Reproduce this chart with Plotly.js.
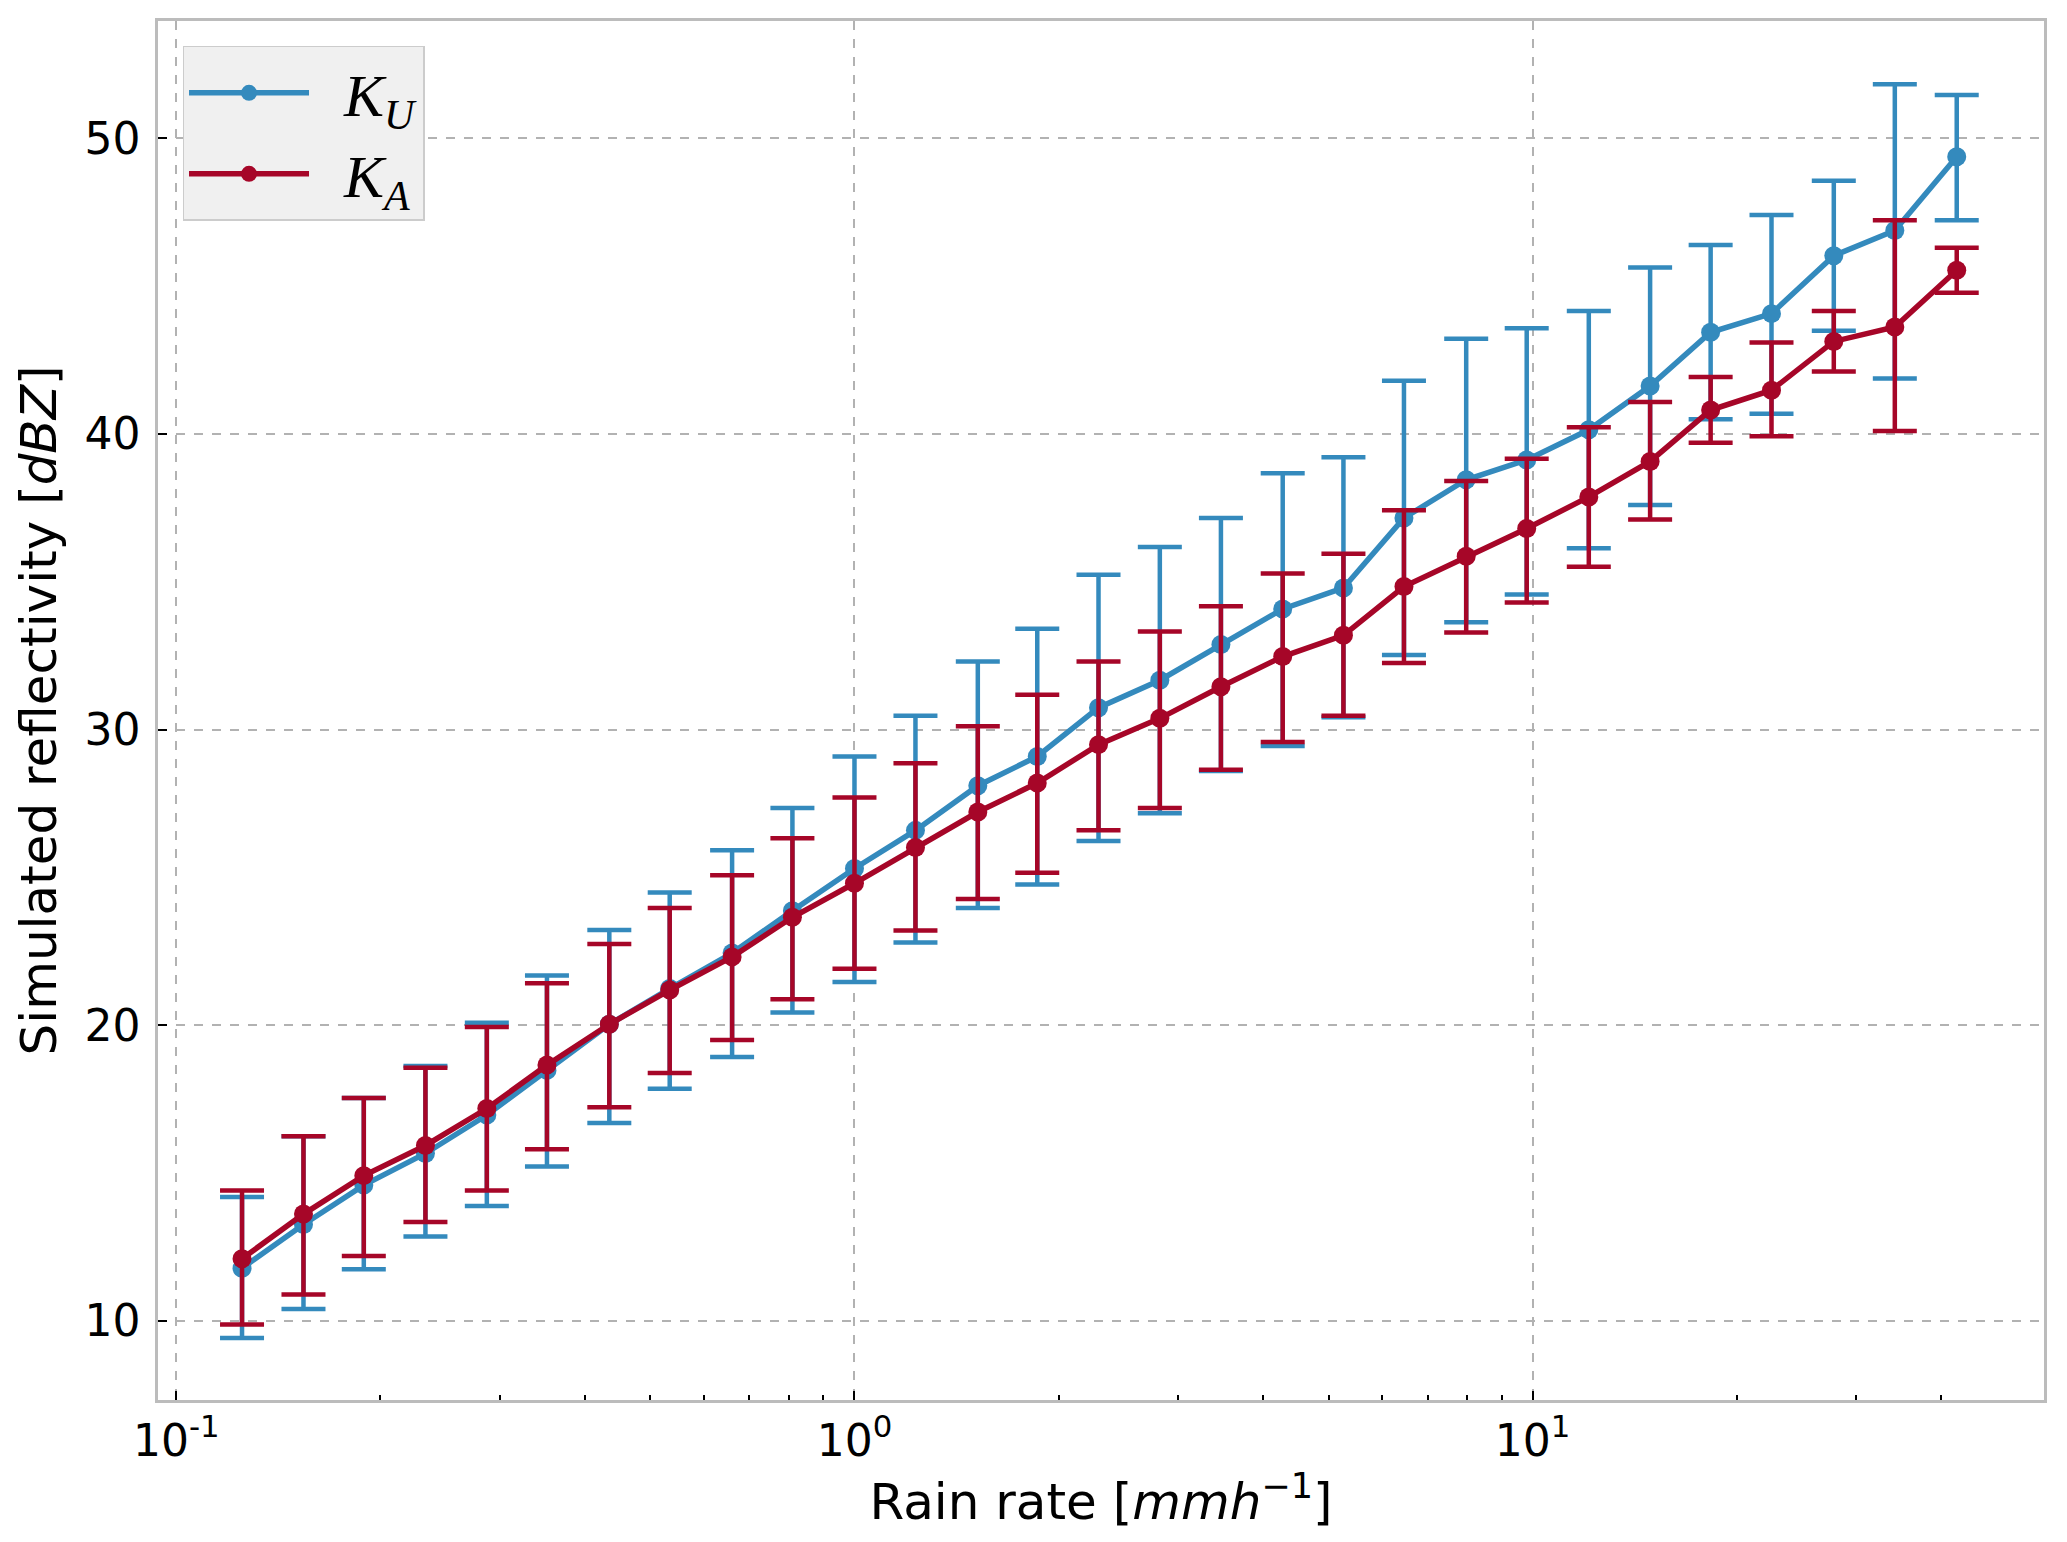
<!DOCTYPE html>
<html>
<head>
<meta charset="utf-8">
<script src="https://cdn.plot.ly/plotly-3.0.1.min.js"></script>
<style>
html,body{margin:0;padding:0;background:#fff;}
#chart{width:2067px;height:1542px;}
</style>
</head>
<body>
<div id="chart"></div>
<script>
// Rain rate bin centres [mm/h]
const rainRate = [0.125, 0.154, 0.189, 0.233, 0.287, 0.352, 0.435, 0.534, 0.660, 0.810,
                  1.00, 1.23, 1.52, 1.86, 2.29, 2.82, 3.47, 4.28, 5.26, 6.46,
                  7.98, 9.80, 12.1, 14.9, 18.3, 22.5, 27.8, 34.2, 42.2];

// Ku band: mean, upper and lower error limits [dBZ]
const kuMean  = [11.78, 13.26, 14.59, 15.66, 16.96, 18.47, 20.03, 21.24, 22.44, 23.87,
                 25.30, 26.59, 28.10, 29.09, 30.74, 31.67, 32.88, 34.08, 34.79, 37.16,
                 38.45, 39.12, 40.14, 41.62, 43.44, 44.07, 46.03, 46.88, 49.38];
const kuUpper = [14.19, 16.24, 17.54, 18.62, 20.08, 21.68, 23.22, 24.49, 25.92, 27.35,
                 29.09, 30.47, 32.30, 33.41, 35.24, 36.18, 37.16, 38.67, 39.21, 41.80,
                 43.22, 43.58, 44.16, 45.63, 46.39, 47.41, 48.57, 51.83, 51.47];
const kuLower = [9.42, 10.40, 11.74, 12.85, 13.88, 15.22, 16.69, 17.85, 18.92, 20.43,
                 21.46, 22.80, 23.96, 24.76, 26.23, 27.17, 28.60, 29.44, 30.42, 32.52,
                 33.63, 34.57, 36.13, 37.60, 40.50, 40.68, 43.49, 41.88, 47.23];

// Ka band: mean, upper and lower error limits [dBZ]
const kaMean  = [12.10, 13.61, 14.91, 15.93, 17.18, 18.65, 20.03, 21.19, 22.31, 23.65,
                 24.80, 26.01, 27.21, 28.19, 29.49, 30.38, 31.45, 32.47, 33.19, 34.84,
                 35.86, 36.80, 37.87, 39.07, 40.81, 41.48, 43.13, 43.62, 45.54];
const kaUpper = [14.41, 16.24, 17.54, 18.56, 19.94, 21.42, 22.75, 23.96, 25.07, 26.32,
                 27.70, 28.86, 30.11, 31.18, 32.30, 33.32, 34.17, 35.28, 35.95, 37.42,
                 38.41, 39.16, 40.23, 41.08, 41.93, 43.09, 44.16, 47.23, 46.30];
const kaLower = [9.87, 10.89, 12.19, 13.34, 14.41, 15.80, 17.22, 18.38, 19.50, 20.88,
                 21.91, 23.20, 24.27, 25.16, 26.59, 27.35, 28.64, 29.58, 30.47, 32.25,
                 33.28, 34.30, 35.51, 37.11, 39.70, 39.92, 42.11, 40.10, 44.78];

const seriesNames = ['&nbsp;&nbsp;<i>K</i><sub><i>U</i></sub>', '&nbsp;&nbsp;<i>K</i><sub><i>A</i></sub>'];
const xTickVals = [0.1, 1, 10];
const xTickText = ['10<sup>-1</sup>', '10<sup>0</sup>', '10<sup>1</sup>'];
const xMinorVals = [0.2,0.3,0.4,0.5,0.6,0.7,0.8,0.9,2,3,4,5,6,7,8,9,20,30,40];
const yTickVals = [10, 20, 30, 40, 50];

const blue = '#348ABD';
const red = '#A60628';

function diff(a, b) { return a.map((v, i) => v - b[i]); }

function makeTrace(name, mean, upper, lower, color) {
  return {
    type: 'scatter',
    mode: 'lines+markers',
    name: name,
    x: rainRate,
    y: mean,
    line: {color: color, width: 5.5},
    marker: {color: color, size: 19},
    error_y: {
      type: 'data',
      symmetric: false,
      array: diff(upper, mean),
      arrayminus: diff(mean, lower),
      color: color,
      thickness: 4.5,
      width: 22
    }
  };
}

const data = [
  makeTrace(seriesNames[0], kuMean, kuUpper, kuLower, blue),
  makeTrace(seriesNames[1], kaMean, kaUpper, kaLower, red)
];

const tickFont = {family: 'DejaVu Sans, sans-serif', size: 44, color: '#000'};

const layout = {
  width: 2067,
  height: 1542,
  paper_bgcolor: '#ffffff',
  plot_bgcolor: '#ffffff',
  margin: {l: 158, r: 23, t: 21, b: 142},
  showlegend: true,
  legend: {
    x: 0.013, y: 0.982, xanchor: 'left', yanchor: 'top',
    bgcolor: '#f0f0f0',
    bordercolor: '#cccccc',
    borderwidth: 1.5,
    font: {family: 'Liberation Serif, DejaVu Serif, serif', size: 60, color: '#000'},
    itemwidth: 120,
    tracegroupgap: 0
  },
  xaxis: {
    type: 'log',
    range: [-1.027, 1.754],
    tickmode: 'array',
    tickvals: xTickVals,
    ticktext: xTickText,
    ticks: 'inside',
    ticklen: 9,
    tickwidth: 2,
    tickcolor: '#000',
    tickfont: tickFont,
    showline: true,
    linecolor: '#bcbcbc',
    linewidth: 2.5,
    mirror: true,
    showgrid: true,
    gridcolor: '#b2b2b2',
    gridwidth: 1.5,
    griddash: 'dash',
    zeroline: false,
    minor: {
      tickmode: 'array',
      tickvals: xMinorVals,
      ticks: 'inside',
      ticklen: 5,
      tickwidth: 1.5,
      tickcolor: '#000',
      showgrid: false
    },
    title: {
      text: 'Rain rate [<i>mmh</i><sup>\u22121</sup>]',
      font: {family: 'DejaVu Sans, sans-serif', size: 50, color: '#000'},
      standoff: 12
    }
  },
  yaxis: {
    range: [7.32, 53.97],
    tickmode: 'array',
    tickvals: yTickVals,
    ticks: 'inside',
    ticklen: 9,
    tickwidth: 2,
    tickcolor: '#000',
    tickfont: tickFont,
    ticklabelstandoff: 6,
    showline: true,
    linecolor: '#bcbcbc',
    linewidth: 2.5,
    mirror: true,
    showgrid: true,
    gridcolor: '#b2b2b2',
    gridwidth: 1.5,
    griddash: 'dash',
    zeroline: false,
    title: {
      text: 'Simulated reflectivity [<i>dBZ</i>]',
      font: {family: 'DejaVu Sans, sans-serif', size: 50, color: '#000'},
      standoff: 12
    }
  }
};

Plotly.newPlot('chart', data, layout, {displayModeBar: false, responsive: false});
</script>
</body>
</html>
